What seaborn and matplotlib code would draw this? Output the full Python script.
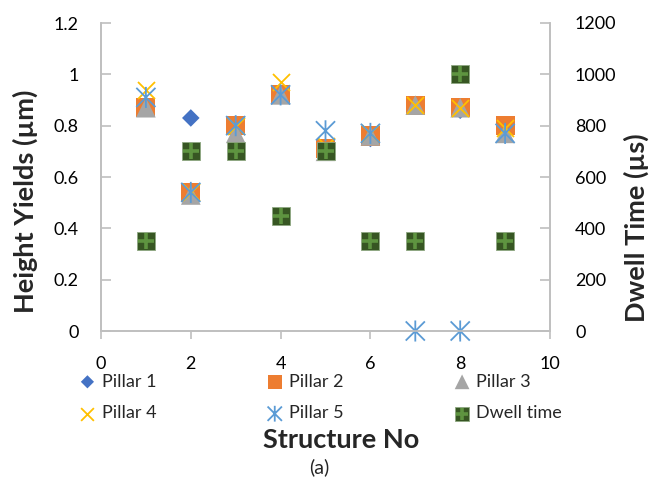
import numpy as np
import pandas as pd
import matplotlib
matplotlib.use("Agg")
import matplotlib.pyplot as plt
from matplotlib.path import Path
from matplotlib.legend_handler import HandlerTuple
import seaborn as sns

sns.set_theme(style="white")
plt.rcParams['font.family'] = ['Lato', 'DejaVu Sans']

# Structure numbers
structure = [1, 2, 3, 4, 5, 6, 7, 8, 9]

# Height yields per pillar (µm)
pillar_1 = [0.87, 0.83, 0.80, 0.92, 0.70, 0.75, 0.88, 0.86, 0.79]
pillar_2 = [0.87, 0.54, 0.80, 0.92, 0.71, 0.76, 0.88, 0.87, 0.80]
pillar_3 = [0.87, 0.53, 0.77, 0.92, 0.70, 0.76, 0.88, 0.87, 0.77]
pillar_4 = [0.94, 0.54, 0.80, 0.97, 0.72, 0.77, 0.88, 0.87, 0.79]
pillar_5 = [0.91, 0.54, 0.80, 0.92, 0.78, 0.77, 0.00, 0.00, 0.77]

# Dwell time per structure (µs)
dwell_time = [350, 700, 700, 450, 700, 350, 350, 1000, 350]

series_names = ["Pillar 1", "Pillar 2", "Pillar 3", "Pillar 4", "Pillar 5"]
series_values = [pillar_1, pillar_2, pillar_3, pillar_4, pillar_5]

# Asterisk marker: an X with a vertical stroke
star_path = Path(
    [(-1, -1), (1, 1), (-1, 1), (1, -1), (0, -1.1), (0, 1.1)],
    [Path.MOVETO, Path.LINETO, Path.MOVETO, Path.LINETO, Path.MOVETO, Path.LINETO],
)

styles = {
    "Pillar 1": dict(marker="D", s=80, color="#4472C4", edgecolor="none"),
    "Pillar 2": dict(marker="s", s=190, color="#ED7D31", edgecolor="none"),
    "Pillar 3": dict(marker="^", s=200, color="#A5A5A5", edgecolor="none"),
    "Pillar 4": dict(marker="x", s=150, color="#FFC000", linewidth=1.3),
    "Pillar 5": dict(marker=star_path, s=230, color="#5B9BD5",
                     edgecolor="#5B9BD5", facecolor="none", linewidth=1.3),
}

fig = plt.figure(figsize=(6.51, 4.88), dpi=100)
ax = fig.add_axes([101 / 651, 1 - 331 / 488, 449 / 651, 308 / 488])
ax2 = ax.twinx()

handles = []
for name, vals in zip(series_names, series_values):
    df = pd.DataFrame({"x": structure, "y": vals})
    st = styles[name]
    sns.scatterplot(data=df, x="x", y="y", ax=ax, zorder=3, clip_on=False, **st)
    handles.append(ax.collections[-1])

dwell_df = pd.DataFrame({"x": structure, "y": dwell_time})
sns.scatterplot(data=dwell_df, x="x", y="y", ax=ax2, marker="s", s=185,
                color="#375623", edgecolor="#8FA882", linewidth=0.6, zorder=4)
sq = ax2.collections[-1]
sns.scatterplot(data=dwell_df, x="x", y="y", ax=ax2, marker="+", s=120,
                color="#5E9440", linewidth=2.6, zorder=5)
plus = ax2.collections[-1]

grey = "#BFBFBF"
for a in (ax, ax2):
    a.spines["top"].set_visible(False)
    for side in ("left", "right", "bottom"):
        a.spines[side].set_color(grey)
        a.spines[side].set_linewidth(1.2)
    a.set_xlabel("")
    a.set_ylabel("")

ax.set_xlim(0, 10)
ax.set_ylim(0, 1.2)
ax2.set_ylim(0, 1200)
ax.set_xticks([0, 2, 4, 6, 8, 10])
ax.set_yticks([0, 0.2, 0.4, 0.6, 0.8, 1.0, 1.2])
ax.set_yticklabels(["0", "0.2", "0.4", "0.6", "0.8", "1", "1.2"])
ax2.set_yticks([0, 200, 400, 600, 800, 1000, 1200])

ax.tick_params(axis="y", direction="in", length=7, width=1.2, color=grey,
               labelsize=13, pad=16, labelcolor="black", left=True)
ax.tick_params(axis="x", direction="out", length=6, width=1.2, color=grey,
               labelsize=13, pad=12, labelcolor="black", bottom=True)
ax2.tick_params(axis="y", direction="in", length=7, width=1.2, color=grey,
                labelsize=13, pad=18, labelcolor="black", right=True)

fig.text(25 / 651, 1 - 201 / 488, "Height Yields (µm)", rotation=90,
         ha="center", va="center", fontsize=19.5, fontweight="bold")
fig.text(636 / 651, 1 - 228 / 488, "Dwell Time (µs)", rotation=90,
         ha="center", va="center", fontsize=19.5, fontweight="bold")
fig.text(341 / 651, 1 - 440 / 488, "Structure No", ha="center", va="center",
         fontsize=19.5, fontweight="bold")
fig.text(319 / 651, 1 - 467 / 488, "(a)", ha="center", va="center", fontsize=14)

legend_handles = handles + [(sq, plus)]
legend_labels = series_names + ["Dwell time"]
# legend fills column-wise; reorder so rows read Pillar 1-3, then Pillar 4-5, Dwell time
order = [0, 3, 1, 4, 2, 5]
leg = fig.legend([legend_handles[i] for i in order], [legend_labels[i] for i in order],
                 ncol=3, loc="center left", bbox_to_anchor=(82 / 651, 1 - 397.5 / 488),
                 borderaxespad=0, borderpad=0,
                 frameon=False, fontsize=13, columnspacing=6.27, handletextpad=0.48,
                 handlelength=0.6, labelspacing=0.88, markerscale=0.75,
                 handler_map={tuple: HandlerTuple(ndivide=1)})

fig.savefig("out.png", dpi=100, facecolor="white")
